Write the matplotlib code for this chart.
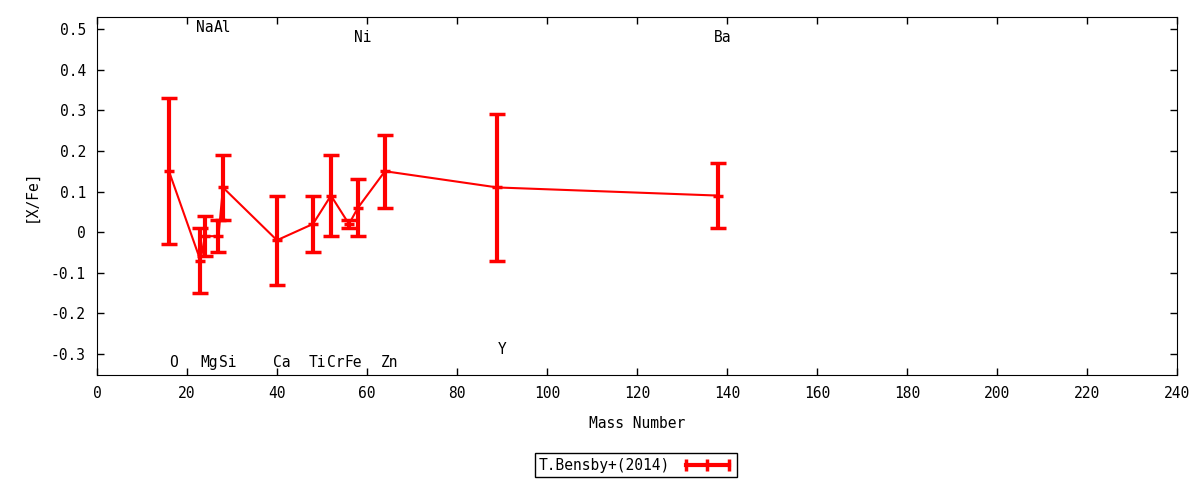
import numpy as np
import matplotlib
matplotlib.use("Agg")
import matplotlib.pyplot as plt
from matplotlib.lines import Line2D
from matplotlib.ticker import MultipleLocator, FuncFormatter

plt.rcParams['font.family'] = ['DejaVu Sans Mono', 'DejaVu Sans']
plt.rcParams['font.size'] = 9.5

# T.Bensby+(2014) abundances
mass = [16, 23, 24, 27, 28, 40, 48, 52, 56, 58, 64, 89, 138]
xfe = [0.15, -0.07, -0.01, -0.01, 0.11, -0.02, 0.02, 0.09, 0.02, 0.06, 0.15, 0.11, 0.09]
err = [0.18, 0.08, 0.05, 0.04, 0.08, 0.11, 0.07, 0.10, 0.01, 0.07, 0.09, 0.18, 0.08]

# element labels (name, x, y)
lab_names = ['O', 'Na', 'Mg', 'Al', 'Si', 'Ca', 'Ti', 'Cr', 'Fe', 'Ni', 'Zn', 'Y', 'Ba']
lab_x = [16, 23, 24, 27, 28, 40, 48, 52, 56, 58, 64, 89, 138]
lab_y = [-0.32, 0.505, -0.32, 0.505, -0.32, -0.32, -0.32, -0.32, -0.32, 0.48, -0.32, -0.29, 0.48]

red = '#ff0000'

fig = plt.figure(figsize=(12, 4.8), dpi=100)
ax = fig.add_axes([0.0808, 0.21875, 0.9, 0.7459])

ax.errorbar(mass, xfe, yerr=err, color=red, lw=1.5, elinewidth=3,
            capsize=6, capthick=2.5, marker='_', ms=7, mew=2.5)

for name, x, y in zip(lab_names, lab_x, lab_y):
    ax.text(x + 1, y, name, ha='center', va='center', fontsize=10.5)

ax.set_xlim(0, 240)
ax.set_ylim(-0.352, 0.53)
ax.xaxis.set_major_locator(MultipleLocator(20))
ax.yaxis.set_major_locator(MultipleLocator(0.1))
ax.yaxis.set_major_formatter(FuncFormatter(lambda v, p: '0' if abs(v) < 1e-9 else '%g' % round(v, 2)))
ax.tick_params(direction='in', top=True, right=True, length=5, width=1, pad=8, labelsize=10.5)

ax.set_xlabel('Mass Number', fontsize=10.5, labelpad=11)
ax.set_ylabel('[X/Fe]', fontsize=10.5, labelpad=9)

# legend sample drawn as a horizontal error bar, like the original
handle = Line2D([], [], color=red, lw=3, marker='|', ms=8, mew=2.5)
fig.legend([handle], ['T.Bensby+(2014)'], loc='center', bbox_to_anchor=(0.53, 0.031),
           markerfirst=False, numpoints=3, fancybox=False, edgecolor='black',
           framealpha=1, fontsize=10.5, borderpad=0.3, handlelength=3.5)

fig.savefig('out.png')
